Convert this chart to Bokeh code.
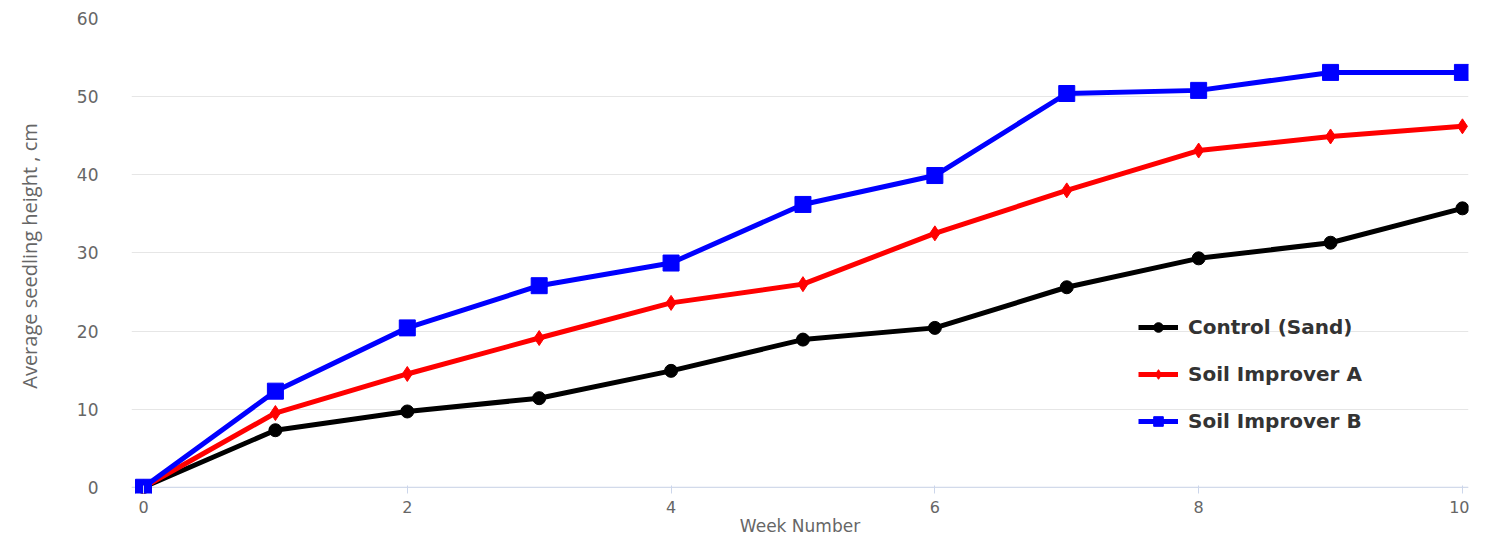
from bokeh.plotting import figure
from bokeh.models import Span, Legend, LegendItem, FixedTicker, Range1d
from bokeh.embed import file_html
from bokeh.resources import INLINE

weeks = [0, 1, 2, 3, 4, 5, 6, 7, 8, 9, 10]
control_sand = [0, 7.3, 9.7, 11.4, 14.9, 18.9, 20.4, 25.6, 29.3, 31.3, 35.7]
soil_a = [0, 9.5, 14.5, 19.1, 23.6, 26.0, 32.5, 38.0, 43.1, 44.9, 46.2]
soil_b = [0, 12.3, 20.4, 25.8, 28.7, 36.2, 39.9, 50.4, 50.8, 53.1, 53.1]
x_ticks = [0, 2, 4, 6, 8, 10]
y_ticks = [0, 10, 20, 30, 40, 50, 60]
series_names = ["Control (Sand)", "Soil Improver A", "Soil Improver B"]
x_title = "Week Number"
y_title = "Average seedling height , cm"

p = figure(width=1469, height=538, output_backend="svg", toolbar_location=None,
           x_range=Range1d(-0.091, 10.046), y_range=Range1d(-0.8, 60.0),
           min_border_left=131, min_border_right=1, min_border_top=18, min_border_bottom=45)
p.outline_line_color = None
p.background_fill_color = "white"

p.xgrid.grid_line_color = None
p.ygrid.grid_line_color = "#e6e6e6"
p.ygrid.grid_line_width = 1

p.xaxis.ticker = FixedTicker(ticks=x_ticks)
p.yaxis.ticker = FixedTicker(ticks=y_ticks)

p.xaxis.axis_line_color = None
p.xaxis.major_tick_line_color = "#ccd6eb"
p.xaxis.major_tick_in = 8
p.xaxis.major_tick_out = 0
p.xaxis.minor_tick_line_color = None
p.xaxis.major_label_standoff = 7
p.xaxis.major_label_text_color = "#666666"
p.xaxis.major_label_text_font = "DejaVu Sans"
p.xaxis.major_label_text_font_size = "16px"
p.xaxis.axis_label = x_title
p.xaxis.axis_label_text_font = "DejaVu Sans"
p.xaxis.axis_label_text_font_style = "normal"
p.xaxis.axis_label_text_font_size = "17px"
p.xaxis.axis_label_text_color = "#666666"
p.xaxis.axis_label_standoff = 0

p.yaxis.axis_line_color = None
p.yaxis.major_tick_line_color = None
p.yaxis.minor_tick_line_color = None
p.yaxis.major_label_standoff = 27
p.yaxis.major_label_text_color = "#666666"
p.yaxis.major_label_text_font = "DejaVu Sans"
p.yaxis.major_label_text_font_size = "17px"
p.yaxis.axis_label = y_title
p.yaxis.axis_label_text_font = "Open Sans"
p.yaxis.axis_label_text_font_style = "normal"
p.yaxis.axis_label_text_font_size = "20px"
p.yaxis.axis_label_text_color = "#666666"
p.yaxis.axis_label_standoff = 31

zero_line = Span(location=0, dimension="width", line_color="#ccd6eb", line_width=1, level="underlay")
p.add_layout(zero_line)

items = []
colors = ["black", "red", "blue"]
markers = ["circle", "diamond", "square"]
sizes = [13, 15, 16]
for name, vals, c, m, s in zip(series_names, [control_sand, soil_a, soil_b], colors, markers, sizes):
    ln = p.line(weeks, vals, line_color=c, line_width=5)
    sc = p.scatter(weeks, vals, marker=m, size=s, fill_color=c, line_color=c)
    items.append(LegendItem(label=name, renderers=[ln, sc]))

legend = Legend(items=items, location=(1007, 60), orientation="vertical",
                padding=0, margin=0, spacing=23, glyph_width=40, glyph_height=24,
                label_height=24, label_standoff=10,
                label_text_font="DejaVu Sans", label_text_font_style="bold",
                label_text_font_size="20px", label_text_color="#333333",
                border_line_color=None, background_fill_alpha=0)
p.add_layout(legend, "center")

open("out.html", "w").write(file_html(p, INLINE))
